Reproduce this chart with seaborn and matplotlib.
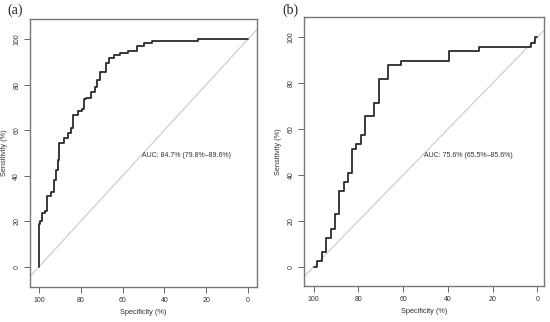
import matplotlib
matplotlib.use("Agg")
import matplotlib.pyplot as plt
import pandas as pd
import seaborn as sns

# ROC step corners (specificity %, sensitivity %)
specA = [100, 100, 99.4, 98.6, 97.1, 96.2, 94.3, 92.8, 91.9, 90.9, 90.3, 88.0,
         86.3, 84.7, 83.6, 81.5, 79.4, 78.5, 77.5, 75.1, 73.2, 72.1, 70.8, 67.9,
         66.4, 64.0, 61.2, 57.6, 53.3, 49.8, 46.1, 23.8, 0]
sensA = [0, 19, 20, 23.5, 24.5, 31, 33, 38, 42.5, 47, 54.3, 56.7,
         58.9, 60.9, 66.6, 68.6, 69.5, 73.6, 74.3, 76.7, 78.9, 82.1, 85.5, 89.7,
         91.6, 93.1, 94.1, 94.9, 97.2, 98.4, 99.1, 100, 100]

specB = [100, 98.5, 96.4, 94.3, 92.5, 90.6, 88.7, 86.6, 84.7, 82.7, 80.9, 78.9,
         76.9, 72.9, 70.8, 66.8, 61.1, 39.7, 25.9, 2.6, 1.0, 0]
sensB = [0, 2.5, 6.5, 12.5, 16.6, 22.8, 33, 37, 41, 51.3, 53.4, 57.5,
         65.7, 71.5, 81.7, 87.9, 89.8, 94, 96, 97.6, 100, 100]

labels = ["(a)", "(b)"]
auc_texts = ["AUC: 84.7% (79.8%\u201389.6%)", "AUC: 75.6% (65.5%\u201385.6%)"]
ticks = [0, 20, 40, 60, 80, 100]

sns.set_style("white")
plt.rcParams["font.family"] = ["Liberation Sans", "DejaVu Sans"]

fig = plt.figure(figsize=(5.5, 3.22), dpi=100)
axA = fig.add_axes([0.0545, 0.1087, 0.4125, 0.8323])
axB = fig.add_axes([0.553, 0.112, 0.436, 0.834])

panels = [(axA, specA, sensA, (104.3, -4.3), (-8.9, 108.9), (50.5, 49.0)),
          (axB, specB, sensB, (104.3, -3.0), (-8.4, 108.7), (50.6, 48.6))]

for i, (ax, sp, se, xl, yl, tpos) in enumerate(panels):
    df = pd.DataFrame({"spec": sp, "sens": se})
    ax.axline((100, 0), (0, 100), color="#cfcfcf", lw=0.9, zorder=1)
    sns.lineplot(data=df, x="spec", y="sens", ax=ax, sort=False, estimator=None,
                 color="#2b2b2b", lw=1.3, drawstyle="steps-post", zorder=3)
    ax.set_xlim(*xl)
    ax.set_ylim(*yl)
    ax.set_xticks(ticks)
    ax.set_yticks(ticks)
    ax.set_yticklabels([str(t) for t in ticks], rotation=90, va="center")
    ax.tick_params(axis="both", which="both", direction="out", length=4,
                   width=0.7, color="#666666", labelsize=5, labelcolor="#333333",
                   pad=3, left=True, bottom=True)
    for s in ax.spines.values():
        s.set_color("#777777")
        s.set_linewidth(1.0)
    ax.set_xlabel("Specificity (%)", fontsize=5.3, color="#333333", labelpad=4)
    ax.set_ylabel("Sensitivity (%)", fontsize=5.3, color="#333333", labelpad=4)
    ax.text(tpos[0], tpos[1], auc_texts[i], fontsize=5, color="#333333",
            ha="left", va="center")

fig.text(0.013, 0.968, labels[0], fontsize=10, family=["Liberation Serif"],
         va="center", ha="left")
fig.text(0.513, 0.968, labels[1], fontsize=10, family=["Liberation Serif"],
         va="center", ha="left")

fig.savefig("out.png", dpi=100)
